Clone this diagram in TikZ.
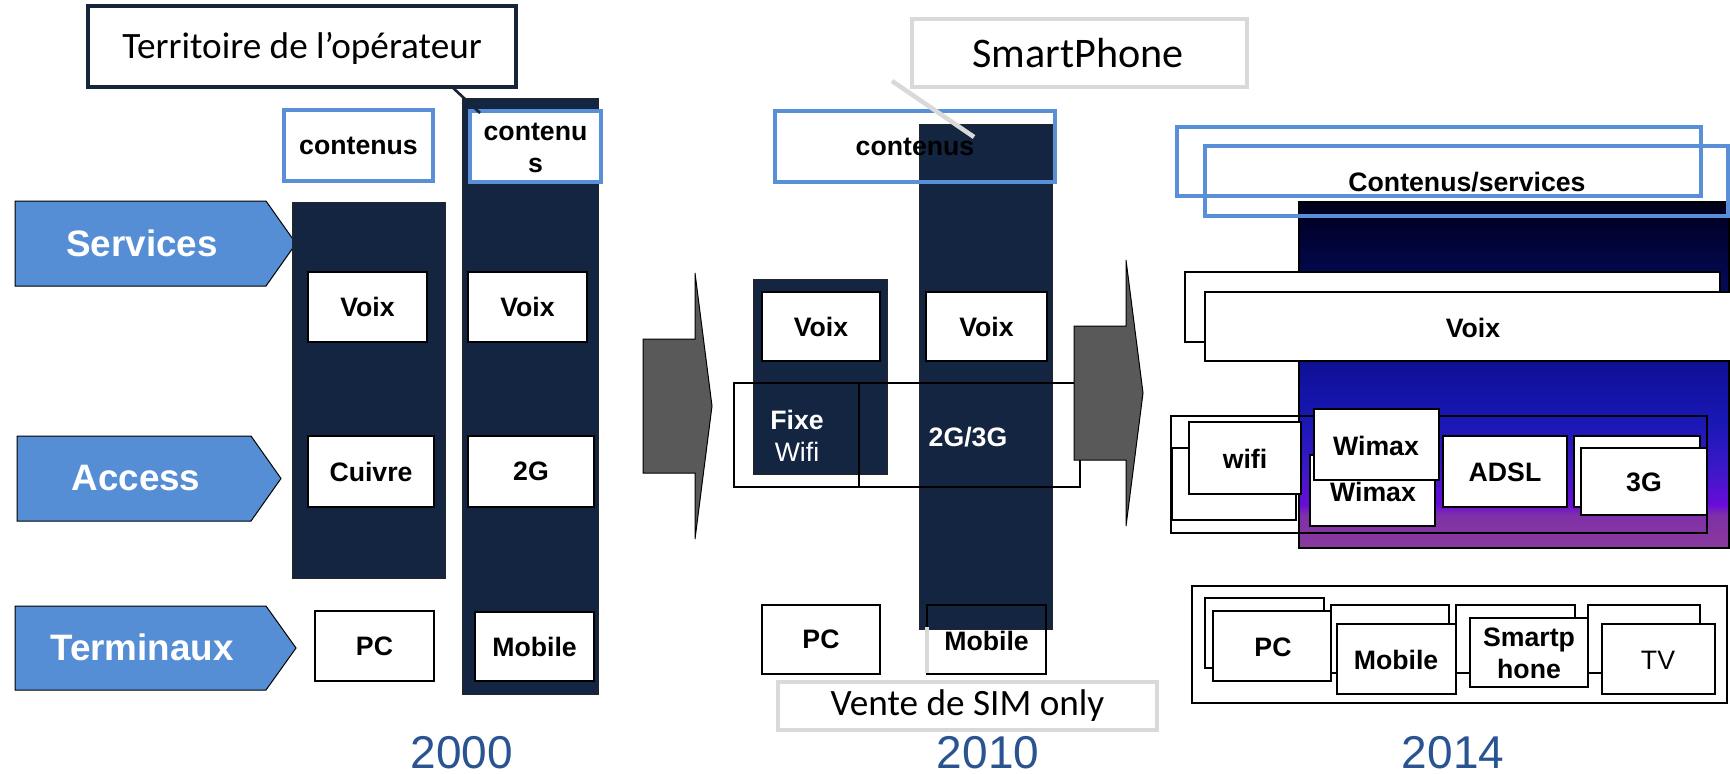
\documentclass[tikz,border=0pt]{standalone}
\usepackage{fontspec}
\setmainfont{Liberation Sans}
\newfontfamily\callfont{Carlito}

\definecolor{navycol}{RGB}{19,37,64}
\definecolor{arrowblue}{RGB}{85,142,213}
\definecolor{boxblue}{RGB}{88,143,214}
\definecolor{arrowgray}{RGB}{89,89,89}
\definecolor{callgray}{RGB}{217,217,217}
\definecolor{terrnavy}{RGB}{23,37,59}
\definecolor{yearblue}{RGB}{41,84,145}
\definecolor{gradT0}{RGB}{0,0,24}
\definecolor{gradT}{RGB}{0,2,48}
\definecolor{gradN}{RGB}{5,12,96}
\definecolor{gradB0}{RGB}{18,18,160}
\definecolor{gradB}{RGB}{24,24,180}
\definecolor{gradB2}{RGB}{60,24,200}
\definecolor{gradC}{RGB}{106,12,216}
\definecolor{gradD}{RGB}{126,48,168}
\definecolor{gradE}{RGB}{138,58,156}

\pgfdeclareverticalshading{techgrad}{100bp}{color(0bp)=(gradE); color(25bp)=(gradE); color(29.8bp)=(gradD); color(31.2bp)=(gradC); color(36.3bp)=(gradB2); color(43.5bp)=(gradB); color(49.3bp)=(gradB0); color(60.8bp)=(gradN); color(71bp)=(gradT); color(75bp)=(gradT0); color(100bp)=(gradT0)}

\tikzset{every picture/.style={line width=0.75pt}}
\tikzset{
  lbl/.style={font=\bfseries\fontsize{20}{24}\selectfont, align=center, inner sep=0pt},
  lblw/.style={lbl, text=white},
  plainlbl/.style={font=\fontsize{20}{24}\selectfont, inner sep=0pt},
  bigarrow/.style={fill=arrowblue},
  arrowtxt/.style={font=\bfseries\fontsize{27.6}{33}\selectfont, text=white, inner sep=0pt},
  grayarrow/.style={fill=arrowgray},
  whitebox/.style={draw=black, fill=white, line width=2pt},
  openbox/.style={draw=black, line width=2pt},
  bluebox/.style={draw=boxblue, line width=2.5pt},
  navycolumn/.style={fill=navycol, draw=black!85, line width=0.75pt},
  terrbox/.style={draw=terrnavy, fill=white, line width=3.5pt},
  callbox/.style={draw=callgray, fill=white, line width=3.5pt},
  calltxt/.style={font=\callfont\fontsize{27.9}{33}\selectfont, inner sep=0pt},
  yearlbl/.style={font=\fontsize{34.5}{40}\selectfont, text=yearblue, inner sep=0pt}
}

\begin{document}
\begin{tikzpicture}[x=0.75pt,y=0.75pt,yscale=-1,xscale=1]
\useasboundingbox (0,0) rectangle (1730,774);

%%%%%%%%%%%%%%%%%%%% 2000
%Shape: Arrow [Services]
\draw [bigarrow] (15,201) -- (266,201) -- (296,243.5) -- (266,286) -- (15,286) -- cycle ;
%Shape: Arrow [Access]
\draw [bigarrow] (17,436) -- (251,436) -- (281,478.5) -- (251,521) -- (17,521) -- cycle ;
%Shape: Arrow [Terminaux]
\draw [bigarrow] (15,606) -- (266,606) -- (296,648) -- (266,690) -- (15,690) -- cycle ;

%Shape: Rectangle [fixed column]
\draw [navycolumn] (292,202) rectangle (445,578) ;
%Shape: Rectangle [mobile column]
\draw [navycolumn] (462,98) rectangle (598,694) ;

%Shape: Rectangle [contenus]
\draw [bluebox, fill=white] (284,110) rectangle (433,181) ;
\draw [bluebox, fill=white] (470,111) rectangle (601,182) ;
%Shape: Rectangle [voix, access, terminals]
\draw [whitebox] (308,272) rectangle (427,342) ;
\draw [whitebox] (468,272) rectangle (587,342) ;
\draw [whitebox] (308,436) rectangle (434,507) ;
\draw [whitebox] (468,436) rectangle (594,507) ;
\draw [whitebox] (315,611) rectangle (434,681) ;
\draw [whitebox] (475,612) rectangle (594,681) ;

%Shape: Callout [Territoire]
\draw [terrbox] (88,6) rectangle (516,87) ;
\coordinate (terrTail) at (451,86) ;
\coordinate (terrTip) at (480,113) ;
%Straight Lines
\draw [terrnavy, line width=2pt] (terrTail) -- (terrTip) ;

% Text Node
\draw (142,243) node (servTxt) [arrowtxt] {Services};
\draw (136,478) node (accTxt) [arrowtxt] {Access};
\draw (142,647) node (termTxt) [arrowtxt] {Terminaux};
\draw (358.5,145.5) node (cont0a) [lbl] {contenus};
\draw (535.5,148) node (cont0b) [lbl] {contenu\\s};
\draw (367.5,307) node (voix0a) [lbl] {Voix};
\draw (527.5,307) node (voix0b) [lbl] {Voix};
\draw (371,471.5) node (cuivre) [lbl] {Cuivre};
\draw (531,471.5) node (deuxG) [lbl] {2G};
\draw (374.5,646) node (pc0) [lbl] {PC};
\draw (534.5,646.5) node (mob0) [lbl] {Mobile};
\draw (302,48) node (terrTxt) [calltxt] {Territoire de l’opérateur};
\draw (462,753) node (yr2000) [yearlbl] {2000};

%%%%%%%%%%%%%%%%%%%% 2010
%Shape: Arrow [gray]
\draw [grayarrow] (643,339) -- (695,339) -- (695,273) -- (712,406) -- (695,539) -- (695,473) -- (643,473) -- cycle ;

%Shape: Rectangle [mobile box under column]
\draw [whitebox] (927,605) rectangle (1046,674) ;
%Shape: Rectangle [columns]
\draw [navycolumn] (753,279) rectangle (887,474) ;
\draw [navycolumn] (919,124) rectangle (1052,629) ;
\draw [openbox] (927,605) rectangle (1046,674) ;
\draw [callgray, line width=2.5pt] (927,627) -- (927,673) ;

%Shape: Rectangle [contenus]
\draw [bluebox] (775,111) rectangle (1055,182) ;
%Shape: Rectangle [voix]
\draw [whitebox] (762,292) rectangle (880,361) ;
\draw [whitebox] (926,292) rectangle (1047,361) ;
%Shape: Rectangle [access]
\draw [openbox] (734,383) rectangle (859,487) ;
\draw [openbox] (859,383) rectangle (1080,487) ;
%Shape: Rectangle [PC]
\draw [whitebox] (762,605) rectangle (880,674) ;

%Shape: Arrow [gray]
\draw [grayarrow] (1074,326) -- (1126,326) -- (1126,260) -- (1143,393) -- (1126,526) -- (1126,460) -- (1074,460) -- cycle ;

%Shape: Callout [SmartPhone]
\draw [callbox] (912,19) rectangle (1247,87) ;
\coordinate (smTail) at (892,81) ;
\coordinate (smTip) at (974,137) ;
%Straight Lines
\draw [callgray, line width=3.4pt] (smTail) -- (smTip) ;
%Shape: Rectangle [Vente de SIM only]
\draw [callbox] (778,682) rectangle (1157,730) ;

% Text Node
\draw (915,146.5) node (cont1) [lbl] {contenus};
\draw (821,326.5) node (voix1a) [lbl] {Voix};
\draw (986.5,326.5) node (voix1b) [lbl] {Voix};
\draw (797,420) node (fixe) [lblw] {Fixe};
\draw (797,452) node (wifi1) [plainlbl, text=white] {Wifi};
\draw (968,437) node (g2g3) [lblw] {2G/3G};
\draw (821,639.5) node (pc1) [lbl] {PC};
\draw (986.5,641) node (mob1) [lbl] {Mobile};
\draw (1078,53) node (smTxt) [calltxt, font=\callfont\fontsize{31.6}{36}\selectfont] {SmartPhone};
\draw (967.5,706) node (simTxt) [calltxt] {Vente de SIM only};
\draw (988,753) node (yr2010) [yearlbl] {2010};

%%%%%%%%%%%%%%%%%%%% 2014
%Shape: Rectangle [network layer]
\shade [shading=techgrad, draw=black, line width=1.5pt] (1299,202) rectangle (1729,548) ;

%Shape: Rectangle [contenus/services]
\draw [bluebox] (1177,127) rectangle (1701,196) ;
\draw [bluebox] (1205,146) rectangle (1728,216) ;
%Shape: Rectangle [voix]
\draw [whitebox] (1185,272) rectangle (1720,342) ;
\draw [whitebox] (1205,292) rectangle (1732,361) ;

%Shape: Rectangle [access group]
\draw [openbox] (1171,416) rectangle (1707,533) ;
\draw [whitebox] (1172,448) rectangle (1296,520) ;
\draw [whitebox] (1189,422) rectangle (1301,494) ;
\draw [whitebox] (1310,455) rectangle (1435,526) ;
\draw (1373,492) node (wimaxB) [lbl] {Wimax};
\draw [whitebox] (1314,409) rectangle (1439,480) ;
\draw [whitebox] (1443,436) rectangle (1567,507) ;
\draw [whitebox] (1574,436) rectangle (1700,507) ;
\draw [whitebox] (1581,448) rectangle (1707,515) ;

%Shape: Rectangle [terminals group]
\draw [openbox] (1192,586) rectangle (1727,703) ;
\draw [whitebox] (1205,598) rectangle (1324,668) ;
\draw [whitebox] (1213,611) rectangle (1331,681) ;
\draw [whitebox] (1331,605) rectangle (1449,673) ;
\draw [whitebox] (1337,624) rectangle (1456,694) ;
\draw [whitebox] (1456,605) rectangle (1575,673) ;
\draw [whitebox] (1470,618) rectangle (1588,687) ;
\draw [whitebox] (1588,605) rectangle (1700,673) ;
\draw [whitebox] (1602,624) rectangle (1715,694) ;

% Text Node
\draw (1467,182) node (contServ) [lbl] {Contenus/services};
\draw (1473,328) node (voix2) [lbl] {Voix};
\draw (1245,459) node (wifi2) [lbl] {wifi};
\draw (1376,446) node (wimaxA) [lbl] {Wimax};
\draw (1505,472) node (adsl) [lbl] {ADSL};
\draw (1644,482) node (troisG) [lbl] {3G};
\draw (1273,647) node (pc2) [lbl] {PC};
\draw (1396,660) node (mob2) [lbl] {Mobile};
\draw (1529,653) node (smart2) [lbl] {Smartp\\hone};
\draw (1658,660) node (tv2) [plainlbl] {TV};
\draw (1453,753) node (yr2014) [yearlbl] {2014};

\end{tikzpicture}
\end{document}
